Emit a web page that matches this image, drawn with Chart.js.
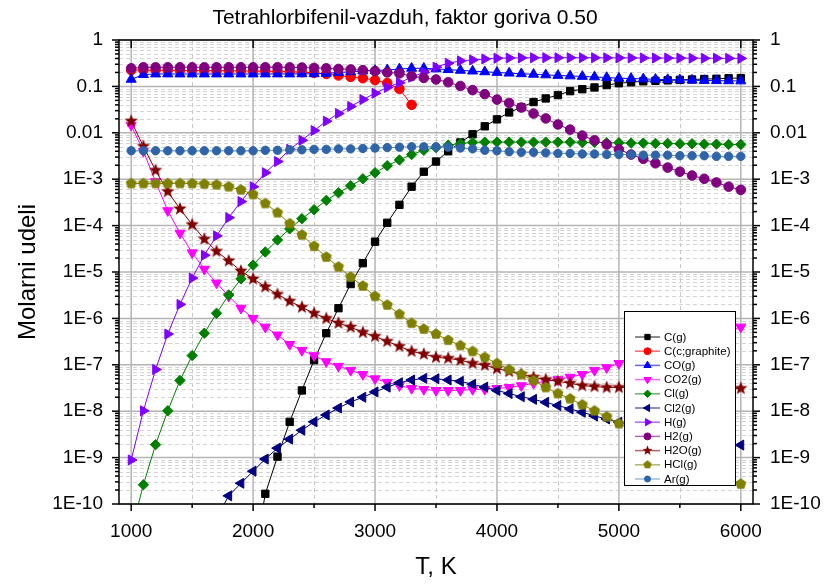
<!DOCTYPE html>
<html>
<head>
<meta charset="utf-8">
<script src="https://cdn.jsdelivr.net/npm/chart.js"></script>
<style>
  html, body { margin: 0; padding: 0; background: #fff; }
  #wrap { width: 828px; height: 585px; }
</style>
</head>
<body>
<div id="wrap"><canvas id="chart" width="828" height="585"></canvas></div>
<script>
// Temperature, K
const temps = [
    1000, 1100, 1200, 1300, 1400, 1500, 1600, 1700, 1800, 1900,
    2000, 2100, 2200, 2300, 2400, 2500, 2600, 2700, 2800, 2900,
    3000, 3100, 3200, 3300, 3400, 3500, 3600, 3700, 3800, 3900,
    4000, 4100, 4200, 4300, 4400, 4500, 4600, 4700, 4800, 4900,
    5000, 5100, 5200, 5300, 5400, 5500, 5600, 5700, 5800, 5900,
    6000
];

const cGas = [
    null, null, null, null, null, null, null, null, null, null,
    5e-12, 1.66e-10, 1.05e-9, 5.9e-9, 2.8e-8, 1.26e-7, 4.8e-7, 1.66e-6, 5.5e-6, 1.55e-5,
    4.5e-5, 1.15e-4, 2.8e-4, 6.9e-4, 1.45e-3, 2.4e-3, 4.0e-3, 6.2e-3, 9.3e-3, 0.0138,
    0.0195, 0.0275, 0.0355, 0.046, 0.055, 0.065, 0.079, 0.087, 0.095, 0.107,
    0.117, 0.123, 0.129, 0.132, 0.135, 0.138, 0.141, 0.144, 0.146, 0.15,
    0.151
];
const cGraphite = [
    0.225, 0.224, 0.223, 0.222, 0.221, 0.22, 0.219, 0.218, 0.217, 0.216,
    0.214, 0.212, 0.21, 0.207, 0.203, 0.196, 0.186, 0.172, 0.16, 0.15,
    0.137, 0.118, 0.088, 0.040, null, null, null, null, null, null,
    null, null, null, null, null, null, null, null, null, null,
    null, null, null, null, null, null, null, null, null, null,
    null
];
const coGas = [
    0.142, 0.18, 0.185, 0.185, 0.185, 0.185, 0.185, 0.185, 0.185, 0.185,
    0.185, 0.185, 0.185, 0.185, 0.186, 0.187, 0.19, 0.2, 0.206, 0.215,
    0.22, 0.226, 0.237, 0.245, 0.245, 0.238, 0.23, 0.222, 0.214, 0.206,
    0.2, 0.193, 0.187, 0.182, 0.177, 0.172, 0.168, 0.164, 0.16, 0.155,
    0.15, 0.148, 0.145, 0.142, 0.14, 0.138, 0.136, 0.134, 0.133, 0.132,
    0.131
];
const co2Gas = [
    0.0145, 0.0040, 8.9e-4, 2.1e-4, 6.9e-5, 2.6e-5, 1.15e-5, 5.8e-6, 3.0e-6, 1.66e-6,
    1.0e-6, 6.5e-7, 4.4e-7, 2.75e-7, 2.05e-7, 1.58e-7, 1.17e-7, 9.3e-8, 7.6e-8, 6.2e-8,
    5.0e-8, 4.2e-8, 3.55e-8, 3.1e-8, 2.95e-8, 2.8e-8, 2.8e-8, 2.8e-8, 2.95e-8, 2.95e-8,
    3.1e-8, 3.25e-8, 3.55e-8, 4.0e-8, 4.4e-8, 4.8e-8, 5.4e-8, 6.2e-8, 7.6e-8, 8.7e-8,
    1.07e-7, 1.26e-7, 1.48e-7, 1.74e-7, 2.1e-7, 2.5e-7, 3.1e-7, 3.8e-7, 4.7e-7, 5.5e-7,
    6.5e-7
];
const clGas = [
    2.5e-11, 2.6e-10, 1.9e-9, 1.02e-8, 4.6e-8, 1.58e-7, 4.8e-7, 1.29e-6, 3.2e-6, 7.1e-6,
    1.41e-5, 2.7e-5, 4.9e-5, 8.5e-5, 1.41e-4, 2.2e-4, 3.5e-4, 5.1e-4, 7.2e-4, 1.02e-3,
    1.38e-3, 1.95e-3, 2.6e-3, 3.4e-3, 4.2e-3, 4.8e-3, 5.4e-3, 5.9e-3, 6.2e-3, 6.3e-3,
    6.3e-3, 6.3e-3, 6.3e-3, 6.3e-3, 6.3e-3, 6.3e-3, 6.3e-3, 6.2e-3, 6.2e-3, 6.1e-3,
    6.1e-3, 6.0e-3, 6.0e-3, 5.9e-3, 5.9e-3, 5.8e-3, 5.8e-3, 5.7e-3, 5.7e-3, 5.6e-3,
    5.6e-3
];
const cl2Gas = [
    null, null, null, null, null, null, null, 5e-11, 1.5e-10, 2.8e-10,
    5.1e-10, 9.3e-10, 1.6e-9, 2.5e-9, 3.9e-9, 5.9e-9, 8.3e-9, 1.17e-8, 1.58e-8, 2.0e-8,
    2.6e-8, 3.3e-8, 4.1e-8, 4.7e-8, 5.1e-8, 5.0e-8, 4.7e-8, 4.4e-8, 3.8e-8, 3.3e-8,
    2.8e-8, 2.4e-8, 2.05e-8, 1.8e-8, 1.55e-8, 1.32e-8, 1.12e-8, 9.5e-9, 7.9e-9, 6.8e-9,
    5.8e-9, 5.0e-9, 4.4e-9, 3.8e-9, 3.4e-9, 3.0e-9, 2.7e-9, 2.4e-9, 2.15e-9, 1.95e-9,
    1.86e-9
];
const hGas = [
    8.9e-10, 1.02e-8, 7.9e-8, 4.6e-7, 2.0e-6, 7.4e-6, 2.3e-5, 6.0e-5, 1.48e-4, 3.3e-4,
    6.9e-4, 1.38e-3, 2.4e-3, 4.4e-3, 6.9e-3, 0.0112, 0.0178, 0.026, 0.037, 0.052,
    0.071, 0.095, 0.12, 0.158, 0.2, 0.26, 0.316, 0.355, 0.372, 0.39,
    0.405, 0.41, 0.412, 0.414, 0.415, 0.415, 0.415, 0.415, 0.414, 0.413,
    0.412, 0.411, 0.41, 0.409, 0.408, 0.407, 0.406, 0.405, 0.404, 0.403,
    0.402
];
const h2Gas = [
    0.245, 0.258, 0.258, 0.258, 0.258, 0.258, 0.258, 0.258, 0.258, 0.258,
    0.258, 0.258, 0.258, 0.257, 0.255, 0.25, 0.245, 0.238, 0.232, 0.224,
    0.214, 0.2, 0.19, 0.166, 0.152, 0.141, 0.123, 0.102, 0.083, 0.068,
    0.052, 0.044, 0.035, 0.026, 0.0204, 0.0151, 0.0117, 8.7e-3, 6.9e-3, 5.6e-3,
    4.4e-3, 3.4e-3, 2.75e-3, 2.2e-3, 1.78e-3, 1.45e-3, 1.2e-3, 1.02e-3, 8.5e-4, 6.9e-4,
    5.9e-4
];
const h2oGas = [
    0.0178, 5.1e-3, 1.55e-3, 5.4e-4, 2.3e-4, 1.05e-4, 5.1e-5, 2.8e-5, 1.74e-5, 1.05e-5,
    7.1e-6, 4.8e-6, 3.3e-6, 2.35e-6, 1.74e-6, 1.29e-6, 1.0e-6, 7.9e-7, 6.5e-7, 5.0e-7,
    4.1e-7, 3.2e-7, 2.5e-7, 1.95e-7, 1.7e-7, 1.45e-7, 1.38e-7, 1.26e-7, 1.07e-7, 9.8e-8,
    8.3e-8, 7.2e-8, 6.2e-8, 5.4e-8, 4.8e-8, 4.4e-8, 4.0e-8, 3.55e-8, 3.4e-8, 3.25e-8,
    3.25e-8, 3.2e-8, 3.2e-8, 3.2e-8, 3.15e-8, 3.15e-8, 3.15e-8, 3.1e-8, 3.1e-8, 3.1e-8,
    3.1e-8
];
const hclGas = [
    8.1e-4, 8.1e-4, 8.1e-4, 8.1e-4, 8.1e-4, 8.1e-4, 7.9e-4, 7.6e-4, 6.9e-4, 5.9e-4,
    4.7e-4, 3.0e-4, 1.9e-4, 1.1e-4, 6.3e-5, 3.6e-5, 2.1e-5, 1.29e-5, 7.8e-6, 5.0e-6,
    3.0e-6, 1.95e-6, 1.23e-6, 7.9e-7, 5.9e-7, 4.6e-7, 3.4e-7, 2.6e-7, 1.95e-7, 1.45e-7,
    1.07e-7, 7.9e-8, 6.2e-8, 4.6e-8, 3.25e-8, 2.4e-8, 1.86e-8, 1.38e-8, 1.02e-8, 7.6e-9,
    5.4e-9, 4.0e-9, 2.95e-9, 2.2e-9, 1.62e-9, 1.2e-9, 8.9e-10, 6.6e-10, 4.9e-10, 3.6e-10,
    2.7e-10
];
const arGas = [
    0.0041, 0.0041, 0.0041, 0.0041, 0.0041, 0.0041, 0.0041, 0.0041, 0.0041, 0.0041,
    0.0041, 0.0042, 0.0042, 0.0043, 0.0043, 0.0044, 0.0044, 0.0045, 0.0045, 0.0046,
    0.0047, 0.0048, 0.0049, 0.005, 0.005, 0.005, 0.0049, 0.0047, 0.0045, 0.0042,
    0.0041, 0.0039, 0.0038, 0.0038, 0.0037, 0.0036, 0.0036, 0.0035, 0.0035, 0.0034,
    0.0034, 0.0034, 0.0033, 0.0033, 0.0033, 0.0032, 0.0032, 0.0032, 0.0031, 0.0031,
    0.0031
];

const seriesNames = ['C(g)', 'C(c;graphite)', 'CO(g)', 'CO2(g)', 'Cl(g)', 'Cl2(g)',
                     'H(g)', 'H2(g)', 'H2O(g)', 'HCl(g)', 'Ar(g)'];

const xTickValues = [1000, 2000, 3000, 4000, 5000, 6000];
const xMinorValues = [1500, 2500, 3500, 4500, 5500];
const yTickValues = [1, 0.1, 0.01, 1e-3, 1e-4, 1e-5, 1e-6, 1e-7, 1e-8, 1e-9, 1e-10];
const yTickLabels = ['1', '0.1', '0.01', '1E-3', '1E-4', '1E-5', '1E-6', '1E-7', '1E-8', '1E-9', '1E-10'];

const FONT = '"Liberation Sans", Arial, sans-serif';

// filled marker images for shapes Chart.js does not have
function polygonMarker(points, outer, inner, color) {
    const size = Math.ceil(outer * 2 + 2);
    const c = document.createElement('canvas');
    c.width = size; c.height = size;
    const g = c.getContext('2d');
    g.translate(size / 2, size / 2);
    g.beginPath();
    const n = inner ? points * 2 : points;
    for (let i = 0; i < n; i++) {
        const r = inner && i % 2 ? inner : outer;
        const a = -Math.PI / 2 + i * 2 * Math.PI / n;
        g.lineTo(Math.cos(a) * r, Math.sin(a) * r);
    }
    g.closePath();
    g.fillStyle = color;
    g.fill();
    return c;
}
const starMarker = polygonMarker(5, 7, 3, '#800000');
const pentaMarker = polygonMarker(5, 5.8, 0, '#808000');
const starSmall = polygonMarker(5, 5.2, 2.2, '#800000');
const pentaSmall = polygonMarker(5, 4.4, 0, '#808000');

function makeSet(i, values, color, style, radius, rotation, lineColor, small) {
    return {
        label: seriesNames[i],
        data: temps.map((t, k) => ({ x: t, y: values[k] })),
        borderColor: lineColor || color,
        backgroundColor: color,
        pointBackgroundColor: color,
        pointBorderColor: color,
        borderWidth: 1,
        pointBorderWidth: 1,
        pointStyle: style,
        pointRadius: radius,
        pointRotation: rotation || 0,
        legendStyle: small || style,
        order: 20 - i
    };
}

const datasets = [
    makeSet(0, cGas, '#000000', 'rect', 5.2),
    makeSet(1, cGraphite, '#FF0000', 'circle', 4.8),
    makeSet(2, coGas, '#0000FF', 'triangle', 5.8),
    makeSet(3, co2Gas, '#FF00FF', 'triangle', 5.8, 180),
    makeSet(4, clGas, '#008000', 'rectRot', 5.2),
    makeSet(5, cl2Gas, '#000080', 'triangle', 5.8, -90),
    makeSet(6, hGas, '#8000FF', 'triangle', 5.8, 90),
    makeSet(7, h2Gas, '#800080', 'circle', 4.8),
    makeSet(8, h2oGas, '#800000', starMarker, 6, 0, null, starSmall),
    makeSet(9, hclGas, '#808000', pentaMarker, 5.5, 0, null, pentaSmall),
    makeSet(10, arGas, '#2f65a8', 'circle', 4.2, 0, '#5a8ac6')
];

function seg(ctx, x1, y1, x2, y2) {
    ctx.beginPath();
    ctx.moveTo(x1, y1);
    ctx.lineTo(x2, y2);
    ctx.stroke();
}

const decorations = {
    id: 'decorations',
    beforeDatasetsDraw(chart) {
        const { ctx, chartArea: a, scales: { x, y } } = chart;
        ctx.save();
        // minor grid
        ctx.lineWidth = 1;
        ctx.strokeStyle = '#d4d4d4';
        ctx.setLineDash([4, 3]);
        for (let d = -10; d < 0; d++) {
            for (let k = 2; k <= 9; k++) {
                const py = Math.round(y.getPixelForValue(Number(k + 'e' + d))) + 0.5;
                seg(ctx, a.left, py, a.right, py);
            }
        }
        ctx.strokeStyle = '#c8c8c8';
        xMinorValues.forEach(v => {
            const px = Math.round(x.getPixelForValue(v)) + 0.5;
            seg(ctx, px, a.top, px, a.bottom);
        });
        // major grid
        ctx.setLineDash([]);
        ctx.strokeStyle = '#b4b4b4';
        ctx.lineWidth = 1.5;
        yTickValues.forEach(v => {
            const py = y.getPixelForValue(v);
            seg(ctx, a.left, py, a.right, py);
        });
        xTickValues.forEach(v => {
            const px = x.getPixelForValue(v);
            seg(ctx, px, a.top, px, a.bottom);
        });
        ctx.restore();
    },
    afterDatasetsDraw(chart) {
        const { ctx, chartArea: a, scales: { x, y } } = chart;
        ctx.save();
        ctx.strokeStyle = '#000';
        ctx.lineWidth = 1.5;
        ctx.strokeRect(a.left, a.top, a.right - a.left, a.bottom - a.top);
        // ticks, left and right axes
        for (let d = -10; d <= 0; d++) {
            for (let k = 1; k <= 9; k++) {
                const v = Number(k + 'e' + d);
                if (v > 1) break;
                const py = y.getPixelForValue(v);
                const len = k === 1 ? 7 : 4;
                seg(ctx, a.left - len, py, a.left, py);
                seg(ctx, a.right, py, a.right + len, py);
            }
        }
        // ticks, bottom and top axes
        xTickValues.forEach(v => {
            const px = x.getPixelForValue(v);
            seg(ctx, px, a.bottom, px, a.bottom + 7);
            seg(ctx, px, a.top, px, a.top + 8);
        });
        xMinorValues.forEach(v => {
            const px = x.getPixelForValue(v);
            seg(ctx, px, a.bottom, px, a.bottom + 4);
        });

        // legend box
        const bx = 624, by = 311, bw = 111, bh = 174;
        ctx.fillStyle = '#fff';
        ctx.fillRect(bx, by, bw, bh);
        ctx.lineWidth = 1;
        ctx.strokeRect(bx + 0.5, by + 0.5, bw, bh);
        ctx.font = '11.5px ' + FONT;
        ctx.textBaseline = 'middle';
        chart.data.datasets.forEach((ds, i) => {
            const ly = 337 + i * 14.2;
            ctx.globalAlpha = 0.6;
            ctx.strokeStyle = ds.borderColor;
            ctx.lineWidth = 1.5;
            seg(ctx, 635, ly, 660, ly);
            ctx.globalAlpha = 1;
            ctx.fillStyle = ds.pointBackgroundColor;
            ctx.strokeStyle = ds.pointBorderColor;
            ctx.lineWidth = 1;
            Chart.helpers.drawPoint(ctx, {
                pointStyle: ds.legendStyle,
                radius: ds.pointRadius * 0.72,
                rotation: ds.pointRotation,
                borderWidth: 1
            }, 647.5, ly);
            ctx.fillStyle = '#000';
            ctx.fillText(ds.label, 664, ly + 0.5);
        });

        // chart title
        ctx.font = '21px ' + FONT;
        ctx.textAlign = 'center';
        ctx.fillText('Tetrahlorbifenil-vazduh, faktor goriva 0.50', 405, 18);
        ctx.restore();
    }
};

const tickFont = { family: FONT, size: 19 };

new Chart(document.getElementById('chart'), {
    type: 'line',
    data: { datasets: datasets },
    plugins: [decorations],
    options: {
        responsive: false,
        animation: false,
        layout: { padding: { top: 40, left: 0, right: 0, bottom: 0 } },
        plugins: {
            legend: { display: false },
            title: { display: false },
            tooltip: { enabled: false }
        },
        scales: {
            x: {
                type: 'linear',
                min: 900,
                max: 6100,
                grid: { display: false, drawTicks: false },
                border: { display: false },
                afterBuildTicks: scale => { scale.ticks = xTickValues.map(v => ({ value: v })); },
                afterFit: scale => { scale.height = 81; },
                ticks: {
                    font: tickFont, color: '#000', padding: 16, autoSkip: false, maxRotation: 0,
                    callback: v => String(v)
                },
                title: {
                    display: true, text: 'T, K', color: '#000',
                    font: { family: FONT, size: 24 }, padding: { top: 0, bottom: 3 }
                }
            },
            y: {
                type: 'logarithmic',
                position: 'left',
                min: 1e-10,
                max: 1,
                grid: { display: false, drawTicks: false },
                border: { display: false },
                afterBuildTicks: scale => { scale.ticks = yTickValues.map(v => ({ value: v })); },
                afterFit: scale => { scale.width = 119; },
                ticks: {
                    font: tickFont, color: '#000', padding: 16, autoSkip: false,
                    callback: (v, i) => yTickLabels[i]
                },
                title: {
                    display: true, text: 'Molarni udeli', color: '#000',
                    font: { family: FONT, size: 24 }, padding: { top: 14, bottom: 0 }
                }
            },
            y2: {
                type: 'logarithmic',
                position: 'right',
                min: 1e-10,
                max: 1,
                grid: { display: false, drawTicks: false },
                border: { display: false },
                afterBuildTicks: scale => { scale.ticks = yTickValues.map(v => ({ value: v })); },
                afterFit: scale => { scale.width = 75; },
                ticks: {
                    font: tickFont, color: '#000', padding: 17, autoSkip: false,
                    callback: (v, i) => yTickLabels[i]
                }
            }
        }
    }
});
</script>
</body>
</html>
